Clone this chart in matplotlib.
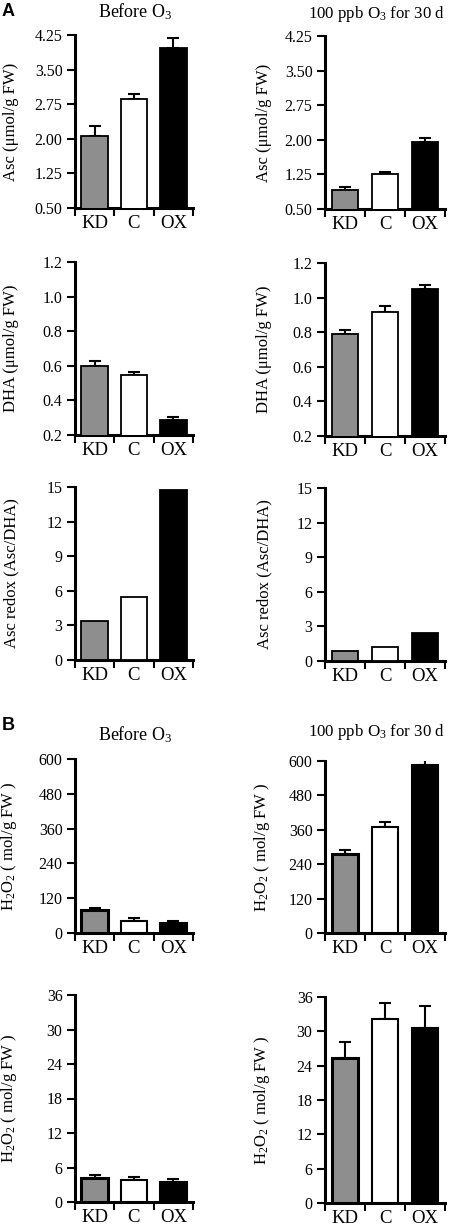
import numpy as np
import matplotlib
matplotlib.use("Agg")
from matplotlib import pyplot as plt

plt.rcParams['font.family'] = ['Liberation Serif', 'DejaVu Serif']
plt.rcParams['mathtext.fontset'] = 'custom'
plt.rcParams['mathtext.rm'] = 'Liberation Serif'

lines = ["KD", "C", "OX"]
colors = ["#8e8e8e", "white", "black"]

# row 1: Asc (umol/g FW)
asc_before = [2.06, 2.86, 3.97]
asc_before_err = [0.22, 0.11, 0.22]
asc_after = [0.92, 1.25, 1.96]
asc_after_err = [0.06, 0.06, 0.08]
# row 2: DHA (umol/g FW)
dha_before = [0.60, 0.545, 0.288]
dha_before_err = [0.025, 0.02, 0.015]
dha_after = [0.79, 0.915, 1.05]
dha_after_err = [0.025, 0.035, 0.02]
# row 3: Asc/DHA ratio
redox_before = [3.4, 5.45, 14.7]
redox_after = [0.83, 1.18, 2.42]
# row 4: H2O2 large scale
h2o2_before = [78, 43, 34]
h2o2_before_err = [9, 10, 7]
h2o2_after = [277, 371, 587]
h2o2_after_err = [11, 15, 17]
# row 5: H2O2 small scale
h2o2s_before = [4.24, 3.78, 3.43]
h2o2s_before_err = [0.45, 0.58, 0.64]
h2o2s_after = [25.4, 32.1, 30.5]
h2o2s_after_err = [2.65, 2.85, 3.9]

W, H = 450, 1229
fig = plt.figure(figsize=(W / 100, H / 100), dpi=100)

asc_lab = "Asc (\u03bcmol/g FW)"
dha_lab = "DHA (\u03bcmol/g FW)"
redox_lab = "Asc redox (Asc/DHA)"
h2o2_lab = r"H$\mathregular{_2}$O$\mathregular{_2}$ ( mol/g FW )"

asc_ticks = [0.5, 1.25, 2.0, 2.75, 3.5, 4.25]
dha_ticks = [0.2, 0.4, 0.6, 0.8, 1.0, 1.2]
redox_ticks = [0, 3, 6, 9, 12, 15]
h2o2_ticks = [0, 120, 240, 360, 480, 600]
h2o2s_ticks = [0, 6, 12, 18, 24, 30, 36]

panels = [
    # (x0, x1, top, bottom, vals, errs, ticks, tick format, ylabel, thick)
    (75, 193, 35, 208, asc_before, asc_before_err, asc_ticks, "{:.2f}", asc_lab, False),
    (325, 445, 36, 209, asc_after, asc_after_err, asc_ticks, "{:.2f}", asc_lab, False),
    (75, 193, 262, 435, dha_before, dha_before_err, dha_ticks, "{:.1f}", dha_lab, False),
    (325, 445, 263, 436, dha_after, dha_after_err, dha_ticks, "{:.1f}", dha_lab, False),
    (75, 193, 487, 660, redox_before, None, redox_ticks, "{:g}", redox_lab, False),
    (325, 445, 488, 661, redox_after, None, redox_ticks, "{:g}", redox_lab, False),
    (75, 193, 759, 933, h2o2_before, h2o2_before_err, h2o2_ticks, "{:g}", h2o2_lab, True),
    (325, 445, 761, 933, h2o2_after, h2o2_after_err, h2o2_ticks, "{:g}", h2o2_lab, True),
    (75, 193, 995, 1202, h2o2s_before, h2o2s_before_err, h2o2s_ticks, "{:g}", h2o2_lab, True),
    (325, 445, 997, 1203, h2o2s_after, h2o2s_after_err, h2o2s_ticks, "{:g}", h2o2_lab, True),
]

x = np.arange(3)
for x0, x1, top, bot, vals, errs, ticks, f, ylab, thick in panels:
    ax = fig.add_axes([x0 / W, 1 - bot / H, (x1 - x0) / W, (bot - top) / H])
    lw = [2.2, 1.5, 1.5] if thick else [1.3, 1.3, 1.3]
    ax.bar(x, vals, width=0.67, color=colors, edgecolor="black",
           linewidth=lw, zorder=3)
    if errs is not None:
        ax.errorbar(x, vals, yerr=[np.zeros(3), errs], fmt="none",
                    ecolor="black", elinewidth=1.5, capsize=4,
                    capthick=1.5, zorder=2)
    ax.set_xlim(-0.5, 2.5)
    ax.set_ylim(ticks[0], ticks[-1])
    ax.set_yticks(ticks)
    ax.set_yticklabels([f.format(t) for t in ticks], fontsize=11.5)
    ax.set_xticks(x)
    ax.set_xticklabels(lines, fontsize=13.5)
    ax.set_xticks([-0.5, 0.5, 1.5, 2.5], minor=True)
    ax.tick_params(axis="x", which="major", length=0, pad=5)
    ax.tick_params(axis="x", which="minor", length=6, width=1.5,
                   direction="out")
    ax.tick_params(axis="y", length=6, width=1.5, direction="out", pad=3)
    for s in ["top", "right"]:
        ax.spines[s].set_visible(False)
    for s in ["left", "bottom"]:
        ax.spines[s].set_linewidth(2.2)
    ax.set_ylabel(ylab, fontsize=12)
    lab_x = 19 if x0 < 200 else 272
    ax.yaxis.set_label_coords((lab_x - x0) / (x1 - x0), 0.5)

title_before = r"Before O$\mathregular{_3}$"
title_after = r"100 ppb O$\mathregular{_3}$ for 30 d"
fig.text(135 / W, 1 - 12 / H, title_before, fontsize=13, ha="center", va="center")
fig.text(377 / W, 1 - 14 / H, title_after, fontsize=12.2, ha="center", va="center")
fig.text(135 / W, 1 - 735 / H, title_before, fontsize=13, ha="center", va="center")
fig.text(377 / W, 1 - 732 / H, title_after, fontsize=12.2, ha="center", va="center")
fig.text(2 / W, 1 - 12 / H, "A", fontsize=13, fontweight="bold",
         family="Liberation Sans", ha="left", va="center")
fig.text(2 / W, 1 - 725 / H, "B", fontsize=13, fontweight="bold",
         family="Liberation Sans", ha="left", va="center")

fig.savefig("out.png", dpi=100)
